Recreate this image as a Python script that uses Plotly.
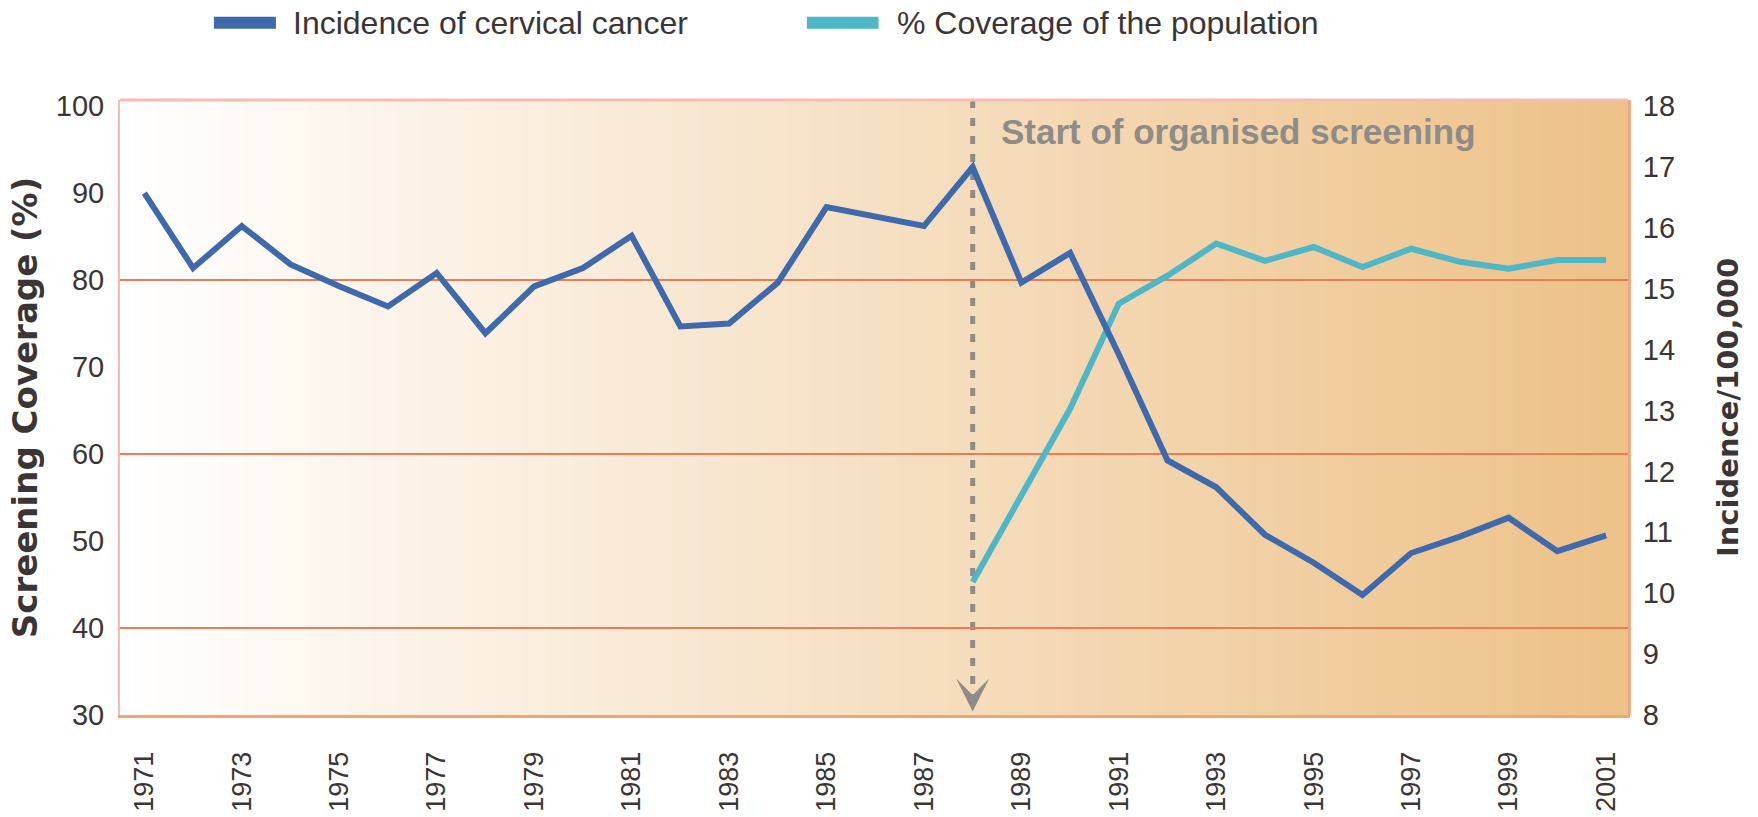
import plotly.graph_objects as go

# ---- data ----
years = list(range(1971, 2002))
incidence = [16.57, 15.34, 16.03, 15.40, 15.04, 14.71, 15.26, 14.27, 15.04, 15.34,
             15.87, 14.38, 14.43, 15.10, 16.34, 16.19, 16.03, 17.00, 15.10, 15.59,
             13.92, 12.18, 11.74, 10.96, 10.50, 9.97, 10.66, 10.93, 11.24, 10.69, 10.95]
coverage_years = list(range(1988, 2002))
coverage = [45.3, 55.2, 65.2, 77.3, 80.5, 84.2, 82.2, 83.8, 81.5, 83.6, 82.1, 81.3, 82.3, 82.3]
left_ticks = [30, 40, 50, 60, 70, 80, 90, 100]
left_grid = [40, 60, 80]
right_ticks = list(range(8, 19))
x_ticks = years[::2]
screening_start = 1988
series_names = ["Incidence of cervical cancer", "% Coverage of the population"]

BLUE = "#3F69AD"
TEAL = "#4DB7C7"
TXT = "#3b3535"
SANS = "Liberation Sans, Arial, Helvetica, sans-serif"
WIDEB = "DejaVu Sans, Verdana, sans-serif"

fig = go.Figure()
fig.add_trace(go.Scatter(x=years, y=incidence, mode="lines", name=series_names[0],
                         line=dict(color=BLUE, width=6), yaxis="y2", showlegend=False))
fig.add_trace(go.Scatter(x=coverage_years, y=coverage, mode="lines", name=series_names[1],
                         line=dict(color=TEAL, width=6), yaxis="y", showlegend=False))

shapes = []
# horizontal background gradient (white -> tan)
N = 120
c0 = (255, 255, 255)
c1 = (237, 193, 135)
for i in range(N):
    t = (i + 0.5) / N
    col = tuple(round(c0[k] + (c1[k] - c0[k]) * t) for k in range(3))
    shapes.append(dict(type="rect", xref="paper", yref="paper",
                       x0=i / N, x1=(i + 1) / N + 0.002, y0=0, y1=1,
                       fillcolor="rgb(%d,%d,%d)" % col, line=dict(width=0), layer="below"))
# top border
shapes.append(dict(type="line", xref="paper", yref="paper", x0=0, x1=1, y0=1, y1=1,
                   line=dict(color="#F6BBB2", width=3), layer="above"))
# dashed vertical marker
shapes.append(dict(type="line", xref="x", yref="paper", x0=screening_start, x1=screening_start,
                   y0=1, y1=0.04, line=dict(color="#8E8B89", width=5, dash="8px,10px"),
                   layer="between"))
# custom legend swatches
LEG_Y = 1.1255
shapes.append(dict(type="line", xref="paper", yref="paper", x0=0.0623, x1=0.1034,
                   y0=LEG_Y, y1=LEG_Y, line=dict(color=BLUE, width=12)))
shapes.append(dict(type="line", xref="paper", yref="paper", x0=0.4555, x1=0.5030,
                   y0=LEG_Y, y1=LEG_Y, line=dict(color=TEAL, width=12)))

annotations = [
    dict(text=series_names[0], xref="paper", yref="paper", x=0.1134, y=LEG_Y,
         xanchor="left", yanchor="middle", showarrow=False,
         font=dict(family=SANS, size=32, color=TXT)),
    dict(text=series_names[1], xref="paper", yref="paper", x=0.5136, y=LEG_Y,
         xanchor="left", yanchor="middle", showarrow=False,
         font=dict(family=SANS, size=32, color=TXT)),
    dict(text="<b>Start of organised screening</b>", xref="x", yref="paper",
         x=screening_start, xshift=26, y=0.948, xanchor="left", yanchor="middle",
         showarrow=False, font=dict(family=SANS, size=35, color="#8E8B89")),
    dict(text="", xref="x", yref="y", x=screening_start, y=30.4, ax=0, ay=-16,
         showarrow=True, arrowhead=3, arrowsize=1.1, arrowwidth=5, arrowcolor="#8E8B89"),
]

fig.update_layout(
    width=1758, height=817,
    margin=dict(l=120, r=130, t=100, b=102, autoexpand=False),
    paper_bgcolor="white", plot_bgcolor="white",
    shapes=shapes, annotations=annotations,
    xaxis=dict(range=[1970.5, 2001.45], tickvals=x_ticks, ticktext=[str(v) for v in x_ticks],
               tickangle=-90, showgrid=False, zeroline=False, automargin=False,
               showline=True, linecolor="#F2A56E", linewidth=3,
               ticks="", ticklabelstandoff=23,
               tickfont=dict(family=SANS, size=27, color=TXT)),
    yaxis=dict(range=[30, 100.7], tickvals=left_ticks, showgrid=False, zeroline=False,
               automargin=False,
               minor=dict(tickvals=left_grid, showgrid=True, gridcolor="#EF7B55",
                          gridwidth=2, ticks=""),
               showline=True, linecolor="#F6BBB2", linewidth=2,
               ticks="", ticklabelstandoff=8,
               tickfont=dict(family=SANS, size=29, color=TXT),
               title=dict(text="<b>Screening Coverage (%)</b>", standoff=8,
                          font=dict(family=WIDEB, size=34, color=TXT))),
    yaxis2=dict(range=[8, 18.1], tickvals=right_ticks, overlaying="y", side="right",
                showgrid=False, zeroline=False, automargin=False,
                showline=True, linecolor="#F1A08C", linewidth=2,
                ticks="", ticklabelstandoff=7,
                tickfont=dict(family=SANS, size=29, color=TXT),
                title=dict(text="<b>Incidence/100,000</b>", standoff=44,
                           font=dict(family=WIDEB, size=29, color=TXT))),
)

fig.write_html("out.html", config={"displayModeBar": False},
               post_script="document.body.style.margin='0px';"
                           "document.body.style.padding='0px';"
                           "document.documentElement.style.overflow='hidden';")
